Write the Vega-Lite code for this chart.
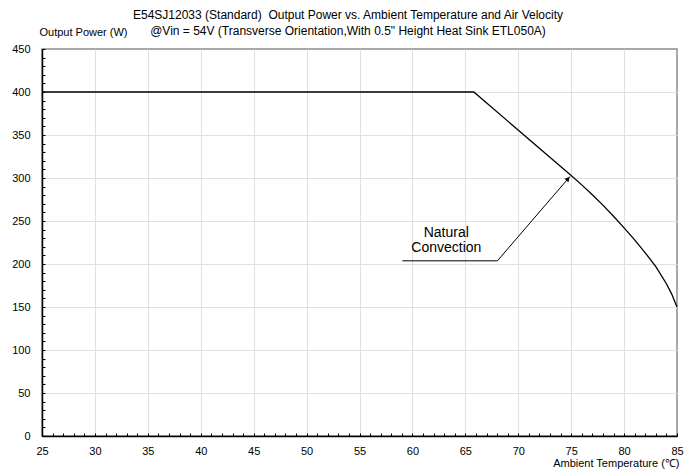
{
  "$schema": "https://vega.github.io/schema/vega-lite/v6.json",
  "autosize": "none",
  "width": 635,
  "height": 387,
  "padding": {"left": 42, "top": 49, "right": 19, "bottom": 36},
  "background": "white",
  "config": {
    "font": "Liberation Sans",
    "view": {"stroke": "#8c8c8c", "strokeWidth": 1.5},
    "axis": {
      "labelFont": "Liberation Sans",
      "labelFontSize": 11,
      "labelColor": "black",
      "labelOverlap": false,
      "labelBound": false,
      "titleFont": "Liberation Sans",
      "titleFontSize": 11,
      "titleFontWeight": "normal",
      "titleColor": "black",
      "domainColor": "black",
      "domainWidth": 1.5,
      "tickColor": "black",
      "tickSize": -3,
      "tickWidth": 1,
      "gridColor": "#e0e0e0",
      "gridWidth": 1
    }
  },
  "title": {
    "text": [
      "E54SJ12033 (Standard)\u00a0 Output Power vs. Ambient Temperature and Air Velocity",
      "@Vin = 54V (Transverse Orientation,With 0.5\" Height Heat Sink ETL050A)"
    ],
    "font": "Liberation Sans",
    "fontSize": 12,
    "fontWeight": "normal",
    "color": "black",
    "anchor": "middle",
    "lineHeight": 16.7,
    "dx": -11.5,
    "dy": 16
  },
  "datasets": {
    "curve": [
      {"x": 25, "y": 400},
      {"x": 65.8, "y": 400},
      {"x": 75, "y": 303},
      {"x": 76, "y": 292},
      {"x": 77, "y": 280.5},
      {"x": 78, "y": 268.5},
      {"x": 79, "y": 255.5},
      {"x": 80, "y": 242},
      {"x": 81, "y": 228},
      {"x": 82, "y": 213},
      {"x": 83, "y": 197},
      {"x": 84, "y": 177},
      {"x": 84.5, "y": 165},
      {"x": 85, "y": 150}
    ],
    "leader": [
      {"x": 59.05, "y": 203.7},
      {"x": 68.03, "y": 203.7},
      {"x": 74.89, "y": 301.8}
    ],
    "arrowhead": [
      {"x": 74.7, "y": 299.2}
    ],
    "label": [
      {"x": 63.2, "y": 231.2, "text": "Natural"},
      {"x": 63.2, "y": 213.8, "text": "Convection"}
    ]
  },
  "layer": [
    {
      "data": {"name": "curve"},
      "mark": {"type": "line", "color": "black", "strokeWidth": 1.3},
      "encoding": {
        "x": {
          "field": "x", "type": "quantitative",
          "scale": {"domain": [25, 85], "nice": false, "zero": false},
          "axis": {
            "title": "Ambient Temperature (℃)",
            "titleAlign": "right",
            "titleAnchor": "end",
            "titleX": 637,
            "titleY": 30,
            "titleBaseline": "alphabetic",
            "tickCount": 61,
            "values": [25,26,27,28,29,30,31,32,33,34,35,36,37,38,39,40,41,42,43,44,45,46,47,48,49,50,51,52,53,54,55,56,57,58,59,60,61,62,63,64,65,66,67,68,69,70,71,72,73,74,75,76,77,78,79,80,81,82,83,84,85],
            "labelExpr": "datum.value % 5 === 0 ? datum.label : ''",
            "labelPadding": 12,
            "labelFlush": false,
            "labelOverlap": false,
            "grid": true,
            "gridOpacity": {"condition": {"test": "datum.value % 5 === 0 && datum.value > 25 && datum.value < 85", "value": 1}, "value": 0}
          }
        },
        "y": {
          "field": "y", "type": "quantitative",
          "scale": {"domain": [0, 450], "nice": false},
          "axis": {
            "title": "Output Power (W)",
            "titleAngle": 0,
            "titleAlign": "left",
            "titleAnchor": "start",
            "titleX": -3,
            "titleY": -13.5,
            "titleBaseline": "alphabetic",
            "tickCount": 46,
            "values": [0,10,20,30,40,50,60,70,80,90,100,110,120,130,140,150,160,170,180,190,200,210,220,230,240,250,260,270,280,290,300,310,320,330,340,350,360,370,380,390,400,410,420,430,440,450],
            "labelExpr": "datum.value % 50 === 0 ? datum.label : ''",
            "labelPadding": 15,
            "labelOverlap": false,
            "labelFlush": false,
            "grid": true,
            "gridOpacity": {"condition": {"test": "datum.value % 50 === 0 && datum.value > 0 && datum.value < 450", "value": 1}, "value": 0}
          }
        }
      }
    },
    {
      "data": {"name": "leader"},
      "mark": {"type": "line", "color": "black", "strokeWidth": 1},
      "encoding": {
        "x": {"field": "x", "type": "quantitative"},
        "y": {"field": "y", "type": "quantitative"}
      }
    },
    {
      "data": {"name": "arrowhead"},
      "mark": {"type": "point", "shape": "triangle-up", "filled": true, "color": "black", "size": 28, "angle": 40.8, "opacity": 1},
      "encoding": {
        "x": {"field": "x", "type": "quantitative"},
        "y": {"field": "y", "type": "quantitative"}
      }
    },
    {
      "data": {"name": "label"},
      "mark": {"type": "text", "font": "Liberation Sans", "fontSize": 14, "color": "black", "align": "center", "baseline": "alphabetic"},
      "encoding": {
        "x": {"field": "x", "type": "quantitative"},
        "y": {"field": "y", "type": "quantitative"},
        "text": {"field": "text"}
      }
    }
  ]
}
